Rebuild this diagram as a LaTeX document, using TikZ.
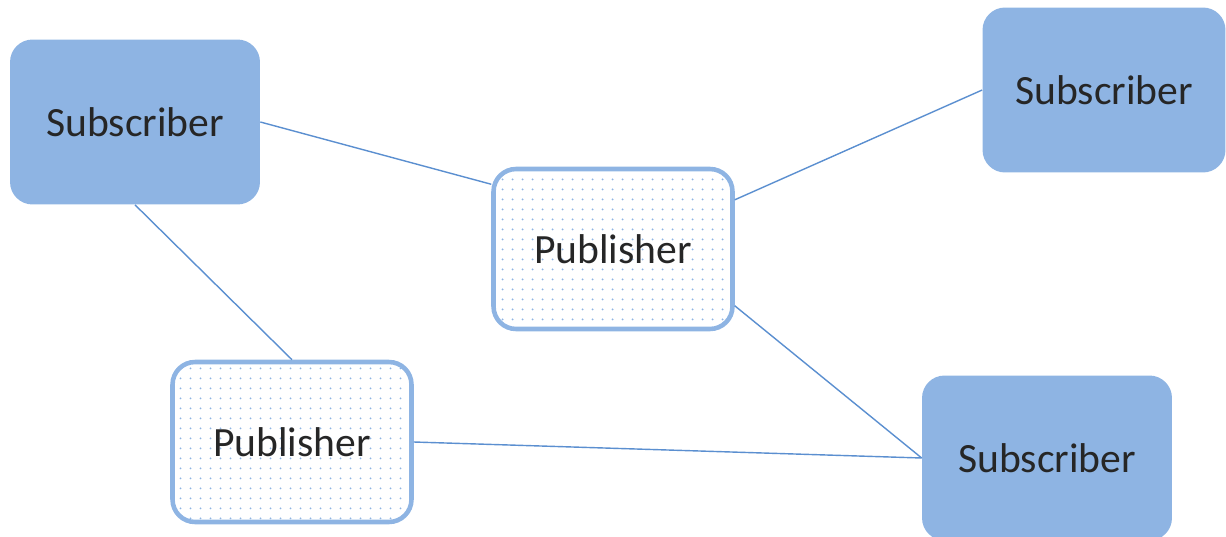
\documentclass[tikz,border=0pt]{standalone}
\usepackage{fontspec}
\setmainfont{Carlito}
\usepackage{tikz}
\usetikzlibrary{positioning,patterns.meta}
\definecolor{subfill}{HTML}{8EB4E3}
\definecolor{linkblue}{HTML}{5B8FD0}
\definecolor{publine}{HTML}{8EB4E3}

\begin{document}
\begin{tikzpicture}[
x=0.02cm,y=-0.02cm,
subs/.style={
  fill=subfill,
  rounded corners=0.45cm,
  minimum width=5cm,
  minimum height=3.3cm,
  font=\fontsize{23.7}{26}\selectfont,
  text=black!85
},
pubs/.style={
  draw=publine,
  line width=2.6pt,
  rounded corners=0.45cm,
  pattern={Dots[distance=5.4pt,radius=0.6pt]},
  pattern color=subfill,
  minimum width=4.78cm,
  minimum height=3.2cm,
  font=\fontsize{23.7}{26}\selectfont,
  text=black!85
},
link/.style={
  draw=linkblue,
  line width=0.8pt
}
]
\useasboundingbox (0,0) rectangle (1226,537);

\node[subs] (sub1) at (135,122) {Subscriber};
\node[subs,minimum width=4.86cm] (sub2) at (1104,90) {Subscriber};
\node[subs] (sub3) at (1047,458) {Subscriber};

\node[pubs] (pub1) at (613,249) {Publisher};
\node[pubs] (pub2) at (292,442) {Publisher};

\draw[link] (sub1.east) -- (pub1.152);
\draw[link] (pub1.22) -- (sub2.west);
\draw[link] (sub1.south) -- (pub2.north);
\draw[link] (pub1.-25) -- (sub3.west);
\draw[link] (pub2.east) -- (sub3.west);

\end{tikzpicture}
\end{document}
